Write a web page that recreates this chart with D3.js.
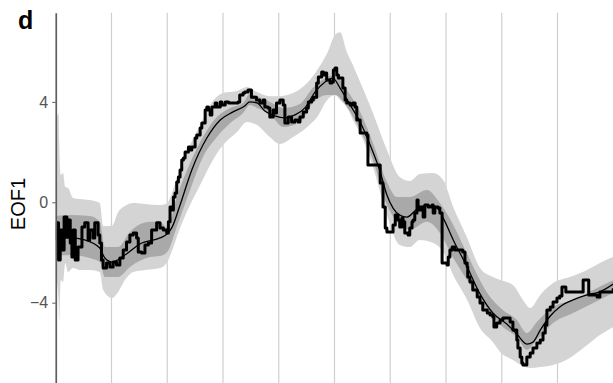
<!DOCTYPE html>
<html>
<head>
<meta charset="utf-8">
<script src="https://cdn.jsdelivr.net/npm/d3@7"></script>
<style>
  body { margin: 0; background: #fff; }
  svg { display: block; font-family: "Liberation Sans", Arial, sans-serif; }
</style>
</head>
<body>
<svg id="chart" width="613" height="383"></svg>
<script>
// Panel d: EOF1 reconstruction with uncertainty envelopes

// Vertical reference lines (time units) and y ticks
const gridTimes = [1, 2, 3, 4, 5, 6, 7, 8, 9];
const yTickValues = [-4, 0, 4];

// Outer envelope: [time, lower, upper]
const outerBand = [
  [0.00, -2.90, 3.08], [0.05, -3.89, 3.56], [0.06, -4.77, 2.48], [0.09, -3.10, 1.09],
  [0.13, -3.18, 1.17], [0.17, -2.42, 0.61], [0.22, -2.78, 0.57], [0.31, -2.62, 0.17],
  [0.43, -2.70, 0.13], [0.61, -2.70, 0.09], [0.79, -2.78, -0.03], [0.85, -3.49, -0.94],
  [1.01, -3.81, -0.94], [1.12, -3.57, -0.39], [1.24, -3.10, -0.15], [1.39, -2.78, -0.03],
  [1.60, -2.70, -0.07], [1.87, -2.62, -0.11], [2.00, -2.38, -0.03], [2.09, -1.90, 0.41],
  [2.23, -1.02, 1.37], [2.41, -0.11, 2.28], [2.59, 0.69, 3.08], [2.77, 1.49, 3.88],
  [3.00, 2.28, 4.35], [3.25, 2.80, 4.43], [3.43, 3.20, 4.59], [3.61, 3.08, 4.39],
  [3.84, 2.60, 4.23], [4.02, 2.32, 4.23], [4.26, 2.60, 4.35], [4.51, 3.00, 4.75],
  [4.69, 3.40, 5.27], [4.87, 4.08, 5.95], [5.01, 4.27, 6.67], [5.10, 4.08, 6.78],
  [5.22, 3.80, 5.99], [5.33, 3.28, 5.47], [5.46, 2.76, 4.79], [5.69, 1.41, 3.56],
  [5.94, -0.51, 2.08], [6.17, -1.70, 1.01], [6.35, -1.78, 0.85], [6.53, -1.50, 1.13],
  [6.77, -1.62, 1.17], [6.95, -1.98, 0.89], [7.13, -2.90, -0.19], [7.38, -3.89, -1.42],
  [7.61, -5.01, -2.62], [7.84, -5.57, -2.98], [7.97, -5.96, -3.10], [8.20, -6.28, -3.30],
  [8.38, -6.52, -3.89], [8.51, -6.60, -4.21], [8.69, -6.56, -3.69], [8.92, -6.48, -3.22],
  [9.22, -6.20, -2.98], [9.53, -5.69, -2.70], [9.76, -5.29, -2.42], [10.00, -4.97, -2.18]
];

// Inner envelope: [time, lower, upper]
const innerBand = [
  [0.00, -2.14, -0.55], [0.26, -2.10, -0.51], [0.61, -2.22, -0.55], [0.79, -2.38, -0.78],
  [0.88, -2.98, -1.78], [1.12, -2.98, -1.78], [1.33, -2.58, -1.18], [1.69, -2.18, -0.78],
  [1.87, -2.14, -0.78], [2.00, -1.98, -1.02], [2.17, -0.98, 0.21], [2.41, 0.49, 1.57],
  [2.64, 1.80, 2.60], [2.89, 2.60, 3.40], [3.13, 3.16, 3.76], [3.36, 3.56, 3.96],
  [3.48, 3.88, 4.31], [3.61, 3.76, 4.23], [3.84, 3.52, 4.00], [4.08, 3.00, 3.76],
  [4.38, 3.20, 3.92], [4.61, 3.96, 4.55], [4.87, 4.27, 4.99], [5.01, 4.27, 5.07],
  [5.22, 3.80, 4.47], [5.46, 2.88, 3.60], [5.69, 1.69, 2.36], [5.94, -0.11, 0.81],
  [6.12, -0.78, 0.21], [6.35, -1.10, 0.21], [6.66, -0.78, 0.49], [6.89, -1.22, -0.03],
  [7.13, -2.22, -0.90], [7.38, -3.10, -2.06], [7.74, -4.29, -3.61], [8.02, -4.97, -4.29],
  [8.27, -5.37, -4.69], [8.45, -5.88, -5.21], [8.63, -5.49, -4.77], [8.92, -4.81, -4.17],
  [9.28, -4.41, -3.89], [9.64, -4.01, -3.49], [10.00, -3.61, -3.10]
];

// Smoothed central estimate: [time, EOF1]
const smoothMean = [
  [0.00, -1.42], [0.26, -1.42], [0.52, -1.50], [0.79, -1.82], [0.88, -2.22], [1.01, -2.38],
  [1.24, -2.10], [1.51, -1.66], [1.87, -1.42], [2.00, -1.26], [2.09, -0.98], [2.23, -0.11],
  [2.44, 1.29], [2.71, 2.56], [2.95, 3.28], [3.18, 3.60], [3.39, 3.84], [3.48, 4.00],
  [3.61, 3.96], [3.75, 3.64], [3.93, 3.44], [4.11, 3.36], [4.29, 3.48], [4.47, 3.76],
  [4.65, 4.39], [4.83, 4.79], [4.97, 4.95], [5.10, 4.55], [5.28, 3.88], [5.46, 3.20],
  [5.64, 2.28], [5.82, 1.21], [5.94, 0.29], [6.05, -0.23], [6.17, -0.51], [6.30, -0.59],
  [6.48, -0.27], [6.66, -0.11], [6.84, -0.23], [6.95, -0.63], [7.13, -1.50], [7.38, -2.58],
  [7.61, -3.65], [7.84, -4.41], [8.09, -4.85], [8.27, -5.25], [8.45, -5.65], [8.56, -5.57],
  [8.69, -5.09], [8.87, -4.53], [9.04, -4.17], [9.28, -3.89], [9.53, -3.69], [9.76, -3.57],
  [10.00, -3.26]
];

// Stepwise record: [time, EOF1]
const stepRecord = [
  [0.00,-1.50],[0.02,-0.82],[0.05,-2.30],[0.08,-1.10],[0.11,-1.90],[0.15,-0.59],[0.20,-1.38],
  [0.23,-0.71],[0.26,-1.62],[0.29,-2.18],[0.31,-1.10],[0.35,-2.30],[0.40,-1.78],[0.47,-0.98],
  [0.52,-0.82],[0.58,-1.50],[0.61,-1.10],[0.67,-1.42],[0.70,-0.82],[0.76,-1.30],[0.79,-1.62],
  [0.82,-2.30],[0.85,-2.62],[0.91,-2.42],[0.97,-2.58],[1.03,-2.38],[1.09,-2.50],[1.15,-2.22],
  [1.21,-1.90],[1.27,-1.58],[1.33,-1.30],[1.39,-1.22],[1.45,-1.42],[1.48,-1.98],[1.54,-2.02],
  [1.60,-1.70],[1.66,-1.62],[1.72,-1.10],[1.81,-0.82],[1.87,-1.02],[1.93,-1.10],[1.99,-1.22],
  [2.02,-0.78],[2.05,-0.19],[2.08,-0.31],[2.11,0.21],[2.14,0.37],[2.17,0.81],[2.20,1.01],
  [2.23,1.29],[2.26,1.69],[2.29,1.76],[2.32,2.00],[2.38,2.20],[2.41,2.08],[2.44,2.20],
  [2.50,2.56],[2.53,2.68],[2.59,2.96],[2.62,3.16],[2.68,3.68],[2.71,3.80],[2.74,3.68],
  [2.77,3.48],[2.80,3.80],[2.86,3.96],[2.89,3.80],[2.95,4.00],[2.98,3.88],[3.04,4.00],
  [3.10,3.96],[3.18,3.96],[3.27,4.00],[3.30,4.27],[3.36,4.35],[3.39,4.39],[3.45,4.47],
  [3.51,4.19],[3.54,4.19],[3.60,4.08],[3.66,3.96],[3.72,4.08],[3.75,3.80],[3.81,3.76],
  [3.84,3.40],[3.90,3.68],[3.93,3.56],[3.96,3.96],[4.02,4.08],[4.08,3.88],[4.11,3.16],
  [4.17,3.40],[4.23,3.20],[4.29,3.28],[4.35,3.20],[4.38,3.40],[4.44,3.60],[4.50,3.76],
  [4.53,4.00],[4.59,4.08],[4.62,4.19],[4.68,4.75],[4.71,4.99],[4.77,5.19],[4.80,5.07],
  [4.83,5.15],[4.86,4.87],[4.92,4.75],[4.95,4.79],[4.98,5.27],[5.01,5.35],[5.04,5.07],
  [5.07,4.95],[5.13,4.95],[5.15,4.55],[5.19,4.08],[5.22,3.96],[5.28,3.88],[5.33,3.96],
  [5.37,3.80],[5.40,3.28],[5.46,2.76],[5.58,2.68],[5.60,1.49],[5.78,1.49],[5.82,0.77],
  [5.87,-0.19],[5.91,-1.02],[5.94,-1.18],[6.03,-1.18],[6.05,-0.90],[6.09,-0.51],[6.14,-0.71],
  [6.17,-0.98],[6.21,-0.63],[6.23,-0.78],[6.26,-1.22],[6.32,-1.30],[6.35,-1.02],[6.39,-0.78],
  [6.41,-0.71],[6.44,-0.43],[6.48,0.09],[6.50,-0.31],[6.53,-0.19],[6.57,-0.31],[6.59,-0.59],
  [6.62,-0.11],[6.68,-0.19],[6.75,-0.11],[6.77,-0.43],[6.80,-0.19],[6.86,-0.23],[6.89,-0.43],
  [6.93,-2.42],[7.02,-2.50],[7.04,-2.18],[7.07,-1.90],[7.11,-1.78],[7.16,-1.90],[7.25,-1.90],
  [7.30,-1.98],[7.34,-2.42],[7.38,-2.58],[7.39,-2.98],[7.43,-3.18],[7.48,-3.49],[7.56,-3.77],
  [7.61,-4.01],[7.66,-4.29],[7.74,-4.41],[7.79,-4.49],[7.84,-4.57],[7.86,-4.97],[7.91,-4.81],
  [7.97,-4.69],[8.02,-4.61],[8.15,-4.77],[8.20,-5.09],[8.27,-5.49],[8.29,-5.81],[8.33,-6.16],
  [8.36,-6.40],[8.38,-6.48],[8.45,-6.16],[8.51,-6.00],[8.56,-5.81],[8.63,-5.61],[8.69,-5.49],
  [8.74,-5.21],[8.78,-4.89],[8.81,-4.29],[8.87,-4.17],[8.92,-3.97],[8.99,-3.81],[9.04,-3.73],
  [9.08,-3.38],[9.13,-3.38],[9.15,-3.57],[9.28,-3.57],[9.44,-3.57],[9.46,-3.10],[9.55,-3.10],
  [9.56,-3.69],[9.64,-3.69],[9.71,-3.77],[9.76,-3.57],[10.00,-3.42]
];

const svg = d3.select("#chart");
const W = 613, H = 383;
const plotLeft = 55.75, plotTop = 12.8;

const x = d3.scaleLinear().domain([0, 10]).range([plotLeft, 613.25]);
const y = d3.scaleLinear().domain([-7.2, 7.55]).range([H, plotTop]);

svg.append("defs").append("clipPath").attr("id", "plot")
  .append("rect").attr("x", plotLeft).attr("y", plotTop)
  .attr("width", W - plotLeft).attr("height", H - plotTop);

// vertical grid
svg.append("g").selectAll("line").data(gridTimes).join("line")
  .attr("x1", d => x(d)).attr("x2", d => x(d))
  .attr("y1", plotTop).attr("y2", H)
  .attr("stroke", "#cfcfcf").attr("stroke-width", 1.2);

const plot = svg.append("g").attr("clip-path", "url(#plot)");

const band = d3.area()
  .x(d => x(d[0])).y0(d => y(d[1])).y1(d => y(d[2]))
  .curve(d3.curveMonotoneX);

plot.append("path").datum(outerBand).attr("d", band).attr("fill", "#d4d4d4");
plot.append("path").datum(innerBand).attr("d", band).attr("fill", "#a9a9a9");

plot.append("path").datum(smoothMean)
  .attr("d", d3.line().x(d => x(d[0])).y(d => y(d[1])).curve(d3.curveMonotoneX))
  .attr("fill", "none").attr("stroke", "#000").attr("stroke-width", 1.3);

plot.append("path").datum(stepRecord)
  .attr("d", d3.line().x(d => x(d[0])).y(d => y(d[1])).curve(d3.curveStepAfter))
  .attr("fill", "none").attr("stroke", "#000").attr("stroke-width", 3)
  .attr("stroke-linejoin", "round");

// y axis
const yAxis = d3.axisLeft(y)
  .tickValues(yTickValues)
  .tickSize(3.5).tickSizeOuter(0).tickPadding(4)
  .tickFormat(d => d < 0 ? "\u2212" + Math.abs(d) : String(d));

const ga = svg.append("g").attr("transform", `translate(${plotLeft},0)`).call(yAxis);
ga.attr("font-size", null).attr("font-family", null);
ga.select(".domain").attr("stroke", "#5e5e5e").attr("stroke-width", 1.7);
ga.selectAll(".tick line").attr("stroke", "#5e5e5e");
ga.selectAll(".tick text").attr("fill", "#555")
  .style("font-size", "16px").style("font-family", "'Liberation Sans', Arial, sans-serif");

// axis title and panel letter
svg.append("text")
  .attr("transform", "translate(25,204) rotate(-90)")
  .attr("text-anchor", "middle")
  .style("font-size", "20px").attr("fill", "#000")
  .text("EOF1");

svg.append("text")
  .attr("x", 18).attr("y", 29)
  .style("font-size", "25px").style("font-weight", "bold").attr("fill", "#000")
  .text("d");
</script>
</body>
</html>
